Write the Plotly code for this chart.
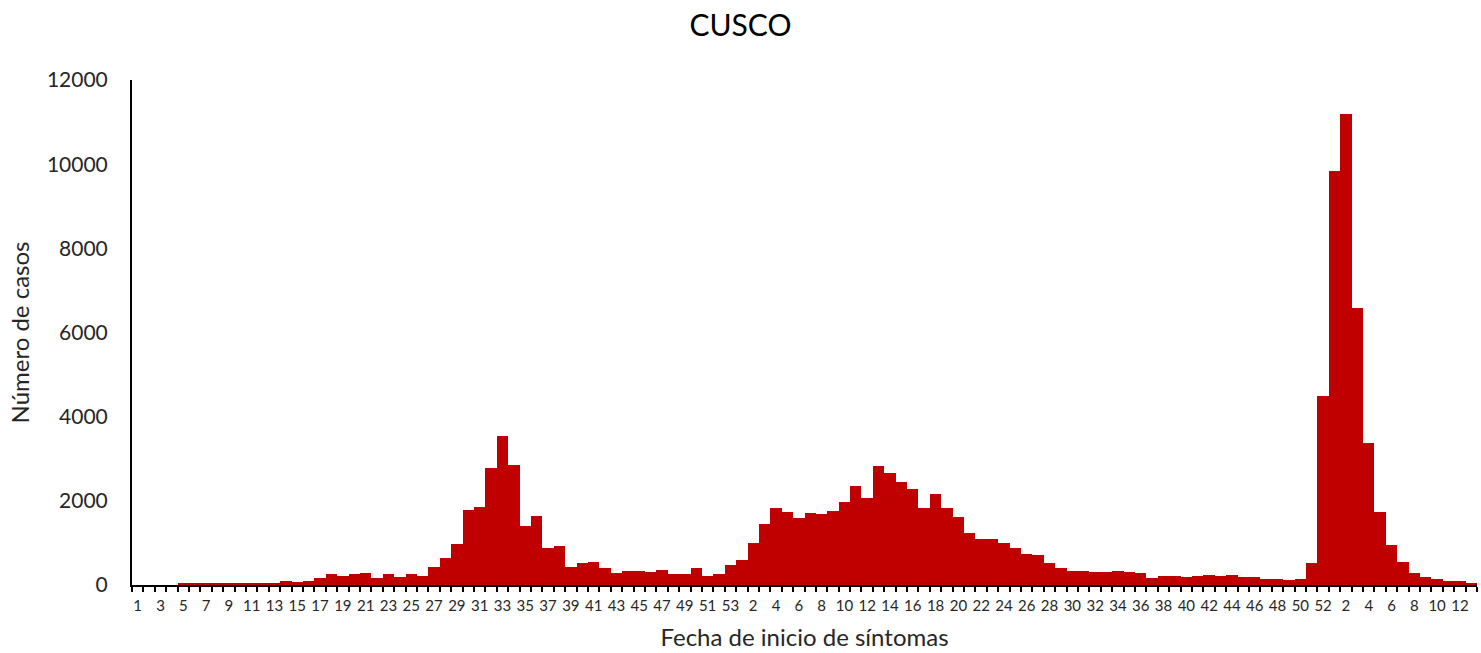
import plotly.graph_objects as go

weeks_2020 = list(range(1, 54))
cases_2020 = [0, 0, 0, 0, 40, 40, 38, 38, 36, 36, 38, 38, 40,
              95, 65, 95, 160, 254, 222, 254, 278, 160, 254, 190, 254, 222,
              437, 643, 984, 1778, 1861, 2772, 3540, 2859, 1402, 1647, 887, 919,
              436, 515, 547, 396, 277, 333, 333, 301, 364, 253, 253, 396, 222, 253, 467]

weeks_2021 = list(range(1, 53))
cases_2021 = [586, 1006, 1441, 1830, 1742, 1592, 1703, 1679, 1766, 1980, 2344, 2075,
              2827, 2653, 2439, 2289, 1830, 2162, 1830, 1616, 1243, 1101, 1101, 1006,
              887, 737, 713, 515, 396, 341, 341, 309, 309, 341, 309, 277, 174, 214,
              214, 182, 214, 245, 214, 245, 182, 182, 150, 150, 119, 150, 515, 4483]

weeks_2022 = list(range(1, 14))
cases_2022 = [9836, 11184, 6574, 3382, 1735, 950, 554, 277, 182, 150, 95, 95, 40]

categories = ([f"2020-{w}" for w in weeks_2020] +
              [f"2021-{w}" for w in weeks_2021] +
              [f"2022-{w}" for w in weeks_2022])
week_numbers = weeks_2020 + weeks_2021 + weeks_2022
values = cases_2020 + cases_2021 + cases_2022
tick_text = [str(w) if i % 2 == 0 else "" for i, w in enumerate(week_numbers)]

FONT = "Lato"

fig = go.Figure(go.Bar(
    x=categories, y=values,
    marker=dict(color="#C00000", line=dict(width=0)),
    hoverinfo="x+y",
))

fig.update_layout(
    width=1481, height=653,
    paper_bgcolor="white", plot_bgcolor="white",
    margin=dict(l=132, r=4, t=80, b=68),
    bargap=0,
    showlegend=False,
    font=dict(family=FONT, color="#262626"),
    title=dict(text="CUSCO", x=0.5, xanchor="center", y=1 - 25 / 653, yref="container",
               yanchor="middle", font=dict(family=FONT, size=30, color="black")),
)

fig.update_xaxes(
    type="category", automargin=False,
    tickmode="array", tickvals=categories, ticktext=tick_text,
    tickson="boundaries", ticks="outside", ticklen=5, tickwidth=2, tickcolor="black",
    tickangle=0, ticklabelstandoff=6,
    tickfont=dict(family=FONT, size=15, color="#262626"),
    showline=True, linecolor="black", linewidth=2,
    showgrid=False, zeroline=False,
    title=dict(text="Fecha de inicio de síntomas", font=dict(family=FONT, size=24, color="#262626"),
               standoff=16),
)

fig.update_yaxes(
    automargin=False,
    range=[0, 12000], tickvals=[0, 2000, 4000, 6000, 8000, 10000, 12000], tickformat="d",
    ticks="", showline=True, linecolor="black", linewidth=2,
    showgrid=False, zeroline=False, ticklabelstandoff=18,
    tickfont=dict(family=FONT, size=21, color="#262626"),
    title=dict(text="Número de casos", font=dict(family=FONT, size=24, color="#262626"),
               standoff=10),
)

fig.write_html("out.html", config={"displayModeBar": False},
               post_script="document.body.style.margin='0';")
